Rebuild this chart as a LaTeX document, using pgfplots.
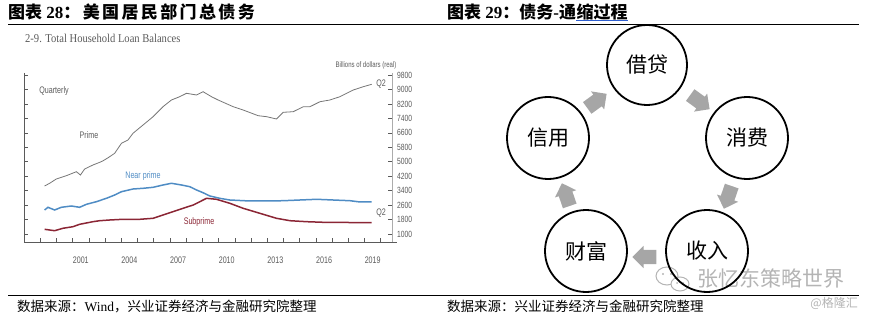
\documentclass[border=0pt]{standalone}
\usepackage{fontspec}
\setmainfont{Liberation Serif}
\newfontfamily\cjk{Noto Sans CJK SC}
\newfontfamily\cjkwide[LetterSpace=14]{Noto Sans CJK SC}
\newfontfamily\chartfont[FakeStretch=0.75]{Liberation Sans}
\newfontfamily\titlefont[FakeStretch=0.88]{Liberation Serif}
\usepackage{pgfplots}
\pgfplotsset{compat=1.18}
\usetikzlibrary{shapes.arrows}
\definecolor{primec}{HTML}{767676}
\definecolor{nearc}{HTML}{4F8CC4}
\definecolor{subc}{HTML}{8B2635}
\definecolor{ctext}{HTML}{5A5A5A}
\definecolor{arrowc}{HTML}{A6A6A6}
\definecolor{ulblue}{HTML}{2F5FD0}
\definecolor{wm}{HTML}{B4B4B4}
\begin{document}
\begin{tikzpicture}[x=1pt,y=1pt]
\useasboundingbox (0,0) rectangle (872,319);
% headers
\node[anchor=base west, inner sep=0, font=\bfseries\fontsize{17}{17}\selectfont] at (8,300.5) {{\cjk 图表} 28{\cjkwide ：美国居民部门总债务}};
\node[anchor=base west, inner sep=0, font=\bfseries\fontsize{17}{17}\selectfont] (hA) at (447,300.5) {{\cjk 图表} 29{\cjk ：债务}-{\cjk 通}};
\node[anchor=base west, inner sep=0, font=\bfseries\fontsize{17}{17}\selectfont] (hB) at (hA.base east) {{\cjk 缩过程}};
\draw[ulblue, line width=1pt] ([yshift=-2.5pt]hB.base west) -- ([yshift=-2.5pt]hB.base east);
\draw[line width=0.9pt] (8,295) -- (859,295);
% footers
\draw[line width=0.9pt] (8,23.5) -- (859,23.5);
\node[anchor=base west, inner sep=0, font=\fontsize{13.5}{13.5}\selectfont] at (17,7.5) {{\cjk 数据来源：}Wind{\cjk ，兴业证券经济与金融研究院整理}};
\node[anchor=base west, inner sep=0, font=\fontsize{13.5}{13.5}\selectfont] at (447,7.5) {{\cjk 数据来源：兴业证券经济与金融研究院整理}};
\node[anchor=base east, inner sep=0, font=\fontsize{12}{12}\selectfont, text=wm] at (858,12) {{\cjk @格隆汇}};
% watermark
\node[anchor=west, inner sep=0, font=\fontsize{21}{21}\selectfont, text=wm] at (697,40) {{\cjk 张忆东策略世界}};
\draw[wm, line width=1pt] (667,43) ellipse (11 and 9);
\draw[wm, line width=1pt, fill=white] (680,35) ellipse (9 and 7);
\fill[wm] (663,45) circle (1.2) (671,45) circle (1.2) (677,36) circle (1) (683,36) circle (1);
% left chart title
\node[anchor=west, inner sep=0, font=\titlefont\fontsize{12}{12}\selectfont, text=ctext] at (25,281) {2-9. Total Household Loan Balances};
\begin{axis}[
  at={(24pt,77pt)}, anchor=south west, scale only axis,
  width=368pt, height=169pt,
  xmin=1998, xmax=2020.69, ymin=557, ymax=9913,
  clip=false,
  axis line style={draw=none},
  xtick={1999,...,2020}, xticklabels={}, xtick pos=left,
  extra x ticks={2001.5,2004.5,2007.5,2010.5,2013.5,2016.5,2019.5},
  extra x tick labels={2001,2004,2007,2010,2013,2016,2019},
  extra x tick style={major tick length=0pt},
  xticklabel style={anchor=center, yshift=-18pt, font=\chartfont\fontsize{9.5}{9.5}\selectfont, text=ctext},
  ytick={1000,1800,...,9800}, ytick pos=both, yticklabel pos=right,
  yticklabel style={anchor=west, inner sep=0pt, xshift=5pt, font=\chartfont\fontsize{9}{9}\selectfont, text=ctext},
  /pgf/number format/1000 sep={},
  /pgf/number format/assume math mode=true,
  tick style={color=ctext, line width=0.6pt},
  major tick length=4.5pt,
]
\draw[ctext, line width=0.7pt] (rel axis cs:0,1) -- (rel axis cs:0,0) -- (rel axis cs:1.013,0);
\draw[ctext!50, line width=0.5pt] (rel axis cs:1,0) -- (rel axis cs:1,1);
\addplot[primec, line width=0.8pt] coordinates {
(1999.27,3657) (1999.58,3807) (1999.99,4045) (2000.61,4227) (2001.23,4449) (2001.48,4266) (2001.74,4598) (2002.25,4820) (2002.67,4969) (2002.85,5041) (2003.16,5207) (2003.59,5468) (2004.01,6021) (2004.41,6204) (2004.72,6575) (2005.34,7034) (2005.96,7494) (2006.57,8047) (2007.09,8418) (2007.60,8601) (2008.02,8789) (2008.64,8695) (2009.04,8878) (2009.56,8601) (2009.97,8418) (2010.90,8047) (2011.51,7865) (2012.44,7549) (2012.96,7494) (2013.57,7366) (2013.98,7737) (2014.60,7771) (2015.22,8047) (2015.63,8047) (2016.25,8324) (2016.86,8418) (2017.48,8601) (2018.30,8972) (2018.92,9155) (2019.44,9287)
};
\addplot[nearc, line width=1.5pt] coordinates {
(1999.27,2329) (1999.48,2478) (1999.89,2329) (2000.30,2478) (2000.92,2550) (2001.43,2478) (2001.85,2644) (2002.46,2788) (2003.08,2976) (2003.59,3159) (2004.01,3342) (2004.72,3491) (2005.34,3530) (2005.96,3585) (2006.57,3713) (2007.09,3807) (2007.71,3713) (2008.22,3619) (2008.64,3436) (2009.04,3286) (2009.46,3104) (2010.07,2976) (2010.69,2882) (2011.93,2827) (2012.96,2827) (2013.98,2843) (2015.01,2882) (2016.04,2921) (2017.07,2882) (2018.10,2843) (2018.72,2772) (2019.44,2772)
};
\addplot[subc, line width=1.5pt] coordinates {
(1999.27,1260) (1999.89,1183) (2000.40,1316) (2001.02,1404) (2001.43,1537) (2002.25,1681) (2002.67,1736) (2003.28,1775) (2004.10,1814) (2005.14,1814) (2005.96,1869) (2006.57,2052) (2007.19,2235) (2007.81,2423) (2008.43,2605) (2008.84,2788) (2009.25,2976) (2009.87,2921) (2010.69,2700) (2011.51,2423) (2012.54,2146) (2013.57,1869) (2014.40,1736) (2015.43,1681) (2016.45,1648) (2017.48,1648) (2018.51,1626) (2019.44,1626)
};
\end{axis}
% chart annotations
\node[inner sep=0, font=\chartfont\fontsize{9.5}{9.5}\selectfont, text=ctext] at (54,228) {Quarterly};
\node[inner sep=0, font=\chartfont\fontsize{9.5}{9.5}\selectfont, text=ctext] at (89,184) {Prime};
\node[inner sep=0, font=\chartfont\fontsize{9.5}{9.5}\selectfont, text=nearc] at (143,143) {Near prime};
\node[inner sep=0, font=\chartfont\fontsize{9.5}{9.5}\selectfont, text=subc] at (199,97) {Subprime};
\node[inner sep=0, font=\chartfont\fontsize{9.5}{9.5}\selectfont, text=ctext] at (381,235) {Q2};
\node[inner sep=0, font=\chartfont\fontsize{9.5}{9.5}\selectfont, text=ctext] at (381,106) {Q2};
\node[inner sep=0, font=\chartfont\fontsize{8}{8}\selectfont, text=ctext] at (366,254) {Billions of dollars (real)};
% right diagram
\tikzset{cyc/.style={draw=black, line width=1.8pt, circle, minimum size=82pt, inner sep=0, font=\cjk\fontsize{21}{21}\selectfont},
 arr/.style={single arrow, fill=arrowc, draw=none, minimum height=24pt, minimum width=22pt, single arrow head extend=4pt, inner sep=0}}
\node[cyc, minimum size=80pt] at (647,254) {借贷};
\node[cyc] at (548,181) {信用};
\node[cyc] at (747,181) {消费};
\node[cyc] at (586,68) {财富};
\node[cyc] at (707,68) {收入};
\node[arr, rotate=36] at (594,216) {\rule{0pt}{14pt}};
\node[arr, rotate=-36] at (697,219) {\rule{0pt}{14pt}};
\node[arr, rotate=-109] at (729,125) {\rule{0pt}{14pt}};
\node[arr, rotate=180] at (648,62) {\rule{0pt}{14pt}};
\node[arr, rotate=109] at (567,121) {\rule{0pt}{14pt}};
\end{tikzpicture}
\end{document}
